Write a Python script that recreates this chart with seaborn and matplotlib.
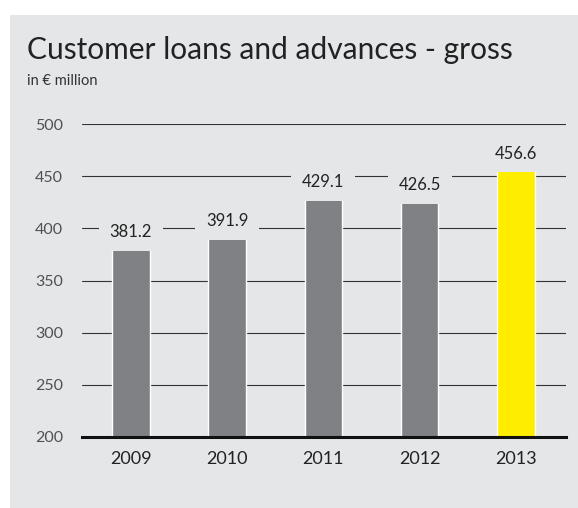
import matplotlib
matplotlib.use("Agg")
import matplotlib.pyplot as plt
from matplotlib.patches import Rectangle
import seaborn as sns
import pandas as pd

# Data
years = ["2009", "2010", "2011", "2012", "2013"]
loans = [381.2, 391.9, 429.1, 426.5, 456.6]
bar_colors = ["#808184", "#808184", "#808184", "#808184", "#ffed00"]
y_ticks = [200, 250, 300, 350, 400, 450, 500]

title = "Customer loans and advances - gross"
subtitle = "in € million"

BG = "#e5e6e8"
FONT = ["Lato", "DejaVu Sans"]

sns.set_theme(style="white")
plt.rcParams["font.family"] = FONT

df = pd.DataFrame({"year": years, "value": loans})

fig = plt.figure(figsize=(5.78, 5.08), dpi=100, facecolor="white")
fig.patches.append(Rectangle((10 / 578, 0), 1, (508 - 15) / 508,
                             transform=fig.transFigure, facecolor=BG,
                             edgecolor="none", zorder=-10))

ax = fig.add_axes([81.8 / 578, 1 - 436.7 / 508, (565.8 - 81.8) / 578, (436.7 - 124.3) / 508])
ax.set_facecolor("none")

sns.barplot(data=df, x="year", y="value", hue="year", palette=bar_colors,
            legend=False, width=0.39, edgecolor="white", linewidth=1.0,
            saturation=1, ax=ax, zorder=3)

ax.set_ylim(200, 500)
ax.set_xlim(-0.51, 4.52)
ax.set_yticks(y_ticks)
ax.set_xlabel("")
ax.set_ylabel("")

ax.yaxis.grid(True, color="#333333", linewidth=0.8, zorder=1)
ax.set_axisbelow(True)
for side in ["top", "right", "left"]:
    ax.spines[side].set_visible(False)
ax.spines["bottom"].set_color("#111111")
ax.spines["bottom"].set_linewidth(2.2)
ax.spines["bottom"].set_zorder(5)

ax.tick_params(axis="y", length=0, pad=13.5, labelsize=11.5, labelcolor="#505050")
ax.tick_params(axis="x", length=0, pad=10, labelsize=13, labelcolor="#222222")

# Value labels above the bars
for i, v in enumerate(loans):
    ax.annotate(f"{v:.1f}", xy=(i, v), xytext=(0, 11.5), textcoords="offset points",
                ha="center", va="center", fontsize=12, color="#222222",
                bbox=dict(boxstyle="square,pad=0.65", facecolor=BG, edgecolor="none"),
                zorder=6)

fig.text(27 / 578, 1 - 59 / 508, title, fontsize=21.5, color="#222222",
         va="baseline", ha="left")
fig.text(27 / 578, 1 - 85 / 508, subtitle, fontsize=10.5, color="#333333",
         va="baseline", ha="left")

fig.savefig("out.png", dpi=100, facecolor="white")
